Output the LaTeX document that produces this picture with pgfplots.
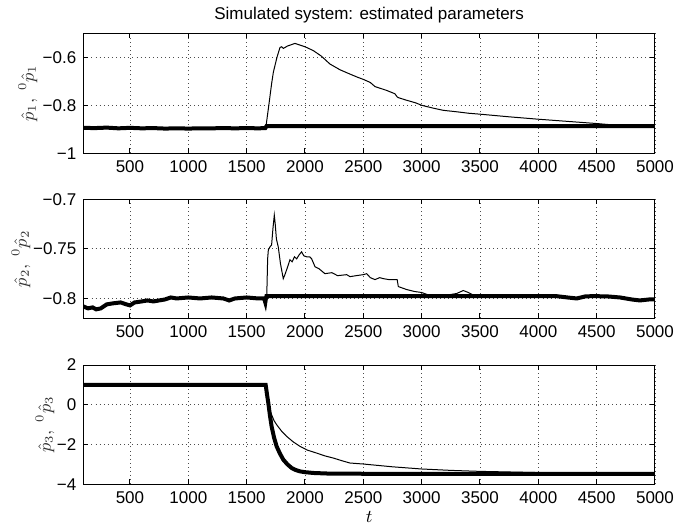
\documentclass[border=0pt]{standalone}
\usepackage{fontspec}
\setmainfont{Liberation Sans}
\usepackage{pgfplots}
\pgfplotsset{compat=1.18}

\pgfplotsset{
  panel/.style={
    scale only axis,
    width=285.85pt,
    xmin=100, xmax=5000,
    xtick={500,1000,...,5000},
    scaled x ticks=false,
    /pgf/number format/1000 sep={},
    /pgf/number format/assume math mode=true,
    tick pos=both,
    tick align=inside,
    major tick length=2.5pt,
    every tick/.style={black, line width=0.5pt},
    axis line style={line width=0.5pt},
    grid=major,
    grid style={black!70, line width=0.45pt, dash pattern=on 0.45pt off 1.6pt},
    tick label style={font=\fontsize{8.5}{10}\selectfont},
    ylabel style={font=\fontsize{8.6}{10}\selectfont, black!80, anchor=center},
    clip=true,
  },
  thin/.style={black, line width=0.5pt},
  thick/.style={black, line width=2pt},
}

\begin{document}
\begin{tikzpicture}
\path[use as bounding box] (0,0) rectangle (348pt,262pt);

% panel 1
\begin{axis}[panel, name=p1, at={(41.65pt,185.35pt)}, anchor=south west,
  height=60pt, ymin=-1, ymax=-0.5,
  ytick={-1,-0.8,-0.6}, yticklabels={−1,−0.8,−0.6},
  title={Simulated system: estimated parameters},
  title style={font=\fontsize{8.5}{10}\selectfont, yshift=-4.5pt},
  ylabel={$\hat{p}_1,\ {}^0\hat{p}_1$},
  ylabel style={at={(axis description cs:-0.097,0.5)}}]
\addplot[thick] coordinates {
(100,-0.894) (200,-0.895) (300,-0.893) (400,-0.896) (500,-0.894) (600,-0.896)
(700,-0.895) (800,-0.897) (900,-0.896) (1000,-0.897) (1100,-0.896) (1200,-0.896)
(1300,-0.895) (1400,-0.896) (1500,-0.895) (1600,-0.896) (1660,-0.895)
(1670,-0.887) (5000,-0.887)};
\addplot[thin] coordinates {
(1660,-0.895) (1668,-0.88) (1690,-0.80) (1714,-0.71) (1729,-0.662) (1760,-0.60)
(1786,-0.559) (1800,-0.556) (1815,-0.563) (1850,-0.553) (1880,-0.548) (1914,-0.542)
(1950,-0.548) (2000,-0.556) (2071,-0.572) (2140,-0.595) (2214,-0.628) (2300,-0.652)
(2386,-0.670) (2450,-0.683) (2500,-0.692) (2560,-0.705) (2600,-0.722) (2700,-0.738)
(2771,-0.752) (2790,-0.765) (2800,-0.768) (2871,-0.779) (2950,-0.790) (3000,-0.800)
(3100,-0.812) (3186,-0.821) (3300,-0.827) (3400,-0.833) (3500,-0.837) (3750,-0.848)
(4000,-0.858) (4250,-0.867) (4500,-0.876) (4671,-0.883) (4750,-0.887) (5000,-0.887)};
\end{axis}

% panel 2
\begin{axis}[panel, name=p2, at={(41.65pt,102.85pt)}, anchor=south west,
  height=59.5pt, ymin=-0.82, ymax=-0.7,
  ytick={-0.8,-0.75,-0.7}, yticklabels={−0.8,−0.75,−0.7},
  ylabel={$\hat{p}_2,\ {}^0\hat{p}_2$},
  ylabel style={at={(axis description cs:-0.109,0.5)}}]
\addplot[thick] coordinates {
(100,-0.808) (140,-0.810) (180,-0.809) (210,-0.811) (250,-0.810) (300,-0.806)
(350,-0.805) (420,-0.804) (470,-0.806) (500,-0.807) (540,-0.804)
(600,-0.803) (650,-0.802) (700,-0.803) (750,-0.802) (800,-0.801) (850,-0.799)
(900,-0.800) (1000,-0.799) (1100,-0.800) (1200,-0.799) (1300,-0.800) (1350,-0.802)
(1400,-0.800) (1500,-0.799) (1600,-0.800) (1650,-0.800) (1660,-0.804) (1665,-0.800)
(1670,-0.7976) (4150,-0.7976) (4250,-0.799) (4330,-0.800) (4400,-0.798) (4470,-0.7976)
(4600,-0.798) (4700,-0.799) (4800,-0.801) (4870,-0.802) (4950,-0.801) (5000,-0.801)};
\addplot[thin] coordinates {
(1660,-0.802) (1672,-0.80) (1680,-0.760) (1686,-0.751) (1700,-0.748) (1714,-0.746)
(1725,-0.730) (1737,-0.716) (1745,-0.725) (1755,-0.740) (1771,-0.748) (1790,-0.765)
(1814,-0.780) (1828,-0.776) (1843,-0.771) (1860,-0.765) (1871,-0.761) (1890,-0.763)
(1910,-0.758) (1929,-0.760) (1950,-0.756) (1971,-0.753) (1990,-0.757) (2014,-0.758)
(2040,-0.758) (2057,-0.760) (2086,-0.768) (2120,-0.770) (2171,-0.775) (2230,-0.774)
(2280,-0.777) (2357,-0.776) (2386,-0.778) (2440,-0.777) (2500,-0.776) (2529,-0.775)
(2560,-0.779) (2600,-0.781) (2640,-0.779) (2671,-0.780) (2720,-0.781) (2771,-0.781)
(2790,-0.781) (2800,-0.788) (2871,-0.791) (2940,-0.793) (3000,-0.794) (3071,-0.797)
(3200,-0.797) (3300,-0.795) (3357,-0.792) (3400,-0.794) (3443,-0.7965) (3500,-0.7976)};
\end{axis}

% panel 3
\begin{axis}[panel, name=p3, at={(41.65pt,19.85pt)}, anchor=south west,
  height=59.65pt, ymin=-4, ymax=2,
  ytick={-4,-2,0,2}, yticklabels={−4,−2,0,2},
  xlabel={$t$}, xlabel style={font=\fontsize{9}{10}\selectfont, yshift=3pt},
  ylabel={$\hat{p}_3,\ {}^0\hat{p}_3$},
  ylabel style={at={(axis description cs:-0.067,0.5)}}]
\addplot[thick] coordinates {
(100,1.0) (1663,1.0) (1675,0.5) (1686,0.08) (1700,-0.55) (1714,-1.09) (1735,-1.65)
(1757,-2.09) (1785,-2.45) (1814,-2.76) (1850,-3.0) (1886,-3.18) (1920,-3.28)
(1957,-3.35) (2000,-3.39) (2071,-3.43) (2200,-3.46) (2500,-3.47) (5000,-3.47)};
\addplot[thin] coordinates {
(1663,1.0) (1675,0.55) (1686,0.0) (1700,-0.3) (1714,-0.5) (1735,-0.8) (1757,-1.0)
(1800,-1.33) (1843,-1.59) (1900,-1.87) (1957,-2.09) (2020,-2.28) (2100,-2.43)
(2170,-2.57) (2243,-2.68) (2320,-2.82) (2386,-2.93) (2500,-2.98) (2750,-3.12)
(3000,-3.23) (3250,-3.30) (3500,-3.35) (3750,-3.38) (4000,-3.41) (4300,-3.44)
(4600,-3.46) (5000,-3.47)};
\end{axis}
\end{tikzpicture}
\end{document}
